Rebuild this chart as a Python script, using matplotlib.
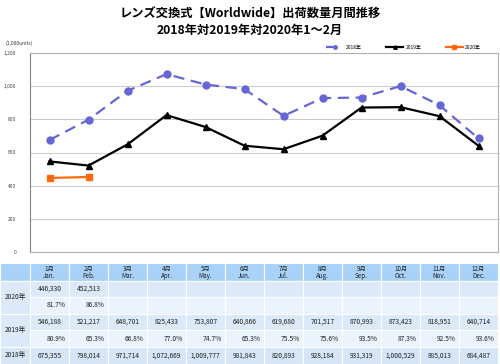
import numpy as np
import matplotlib
matplotlib.use("Agg")
import matplotlib.pyplot as plt
from matplotlib.patches import Rectangle

plt.rcParams['font.family'] = ['Noto Sans CJK JP', 'DejaVu Sans']

# data
months_jp = ["1月", "2月", "3月", "4月", "5月", "6月", "7月", "8月", "9月", "10月", "11月", "12月"]
months_en = ["Jan.", "Feb.", "Mar.", "Apr.", "May.", "Jun.", "Jul.", "Aug.", "Sep.", "Oct.", "Nov.", "Dec."]
y2018 = [675355, 798014, 971714, 1072669, 1009777, 981843, 820893, 928184, 931319, 1000529, 885013, 684487]
y2019 = [546188, 521217, 648701, 825433, 753807, 640866, 619680, 701517, 870993, 873423, 818951, 640714]
y2020 = [446330, 452513]
pct2019 = [80.9, 65.3, 66.8, 77.0, 74.7, 65.3, 75.5, 75.6, 93.5, 87.3, 92.5, 93.6]
pct2020 = [81.7, 86.8]

W, H = 500, 364
fig = plt.figure(figsize=(W / 100, H / 100), dpi=100)

fig.text(0.5, 1 - 13 / H, "レンズ交換式【Worldwide】出荷数量月間推移",
         ha="center", va="center", fontsize=8.8, fontweight="bold")
fig.text(0.5, 1 - 30 / H, "2018年対2019年対2020年1～2月",
         ha="center", va="center", fontsize=8.8, fontweight="bold")

# ---- chart ----
x0, x1 = 30, 498
ytop, ybot = 53, 252
ax = fig.add_axes([x0 / W, 1 - ybot / H, (x1 - x0) / W, (ybot - ytop) / H])
x = np.arange(12)
ax.plot(x, np.array(y2018) / 1000, color="#6666d6", lw=1.6, ls=(0, (5, 3)),
        marker="o", ms=5, label="2018年")
ax.plot(x, np.array(y2019) / 1000, color="black", lw=1.6,
        marker="^", ms=5, label="2019年")
ax.plot(x[:len(y2020)], np.array(y2020) / 1000, color="#ff6a10", lw=1.6,
        marker="s", ms=5, label="2020年")
ax.set_xlim(-0.5, 11.5)
ax.set_ylim(0, 1200)
ax.set_yticks(np.arange(0, 1201, 200))
ax.set_yticklabels(["0", "200", "400", "600", "800", "1,000", "1,200"])
ax.set_xticks([])
ax.tick_params(axis="y", labelsize=3.5, length=0, pad=10, colors="#444444")
ax.grid(axis="y", color="#cccccc", lw=0.8)
ax.set_axisbelow(True)
for s in ax.spines.values():
    s.set_color("#b0b0b0")
ax.spines["left"].set_color("#808080")
ax.legend(loc="lower right", bbox_to_anchor=(0.97, 1.0), ncol=3, frameon=False,
          fontsize=3.5, handlelength=3.5, columnspacing=5, markerscale=0.5,
          borderaxespad=0.2, handletextpad=0.5)
fig.text(5 / W, 1 - 43 / H, "(1,000units)", fontsize=3.5, va="center", color="#333333")

# ---- table ----
unit = (x1 - x0) / 12
tab_top = 263
tax = fig.add_axes([0, 0, 1, 1 - tab_top / H])
left = -0.5 - x0 / unit
tax.set_xlim(left, left + W / unit)
row_h = [18, 16, 16.5, 16.5, 16.5, 17]
edges = np.concatenate([[0], np.cumsum(row_h)])
tax.set_ylim(edges[-1], 0)
tax.axis("off")

hdr = "#a8d2f8"
c_val = "#dbe9f8"
c_pct = "#ebf3fc"
c_18 = "#d6e6f7"
row_cols = [c_val, c_pct, c_val, c_pct, c_18]


def cell(xa, xb, ya, yb, fc):
    tax.add_patch(Rectangle((xa, ya), xb - xa, yb - ya, fc=fc, ec="white", lw=0.8))


# header
cell(left, -0.5, edges[0], edges[1], hdr)
for i in range(12):
    cell(i - 0.5, i + 0.5, edges[0], edges[1], hdr)
    ym = (edges[0] + edges[1]) / 2
    tax.text(i, ym - 3.5, months_jp[i], ha="center", va="center", fontsize=4.5, color="#222222")
    tax.text(i, ym + 3.5, months_en[i], ha="center", va="center", fontsize=4.5, color="#222222")

# year labels
labels = [("2020年", 1, 3, c_val), ("2019年", 3, 5, c_val), ("2018年", 5, 6, c_18)]
for lab, ra, rb, fc in labels:
    cell(left, -0.5, edges[ra], edges[rb], fc)
    tax.text((left - 0.5) / 2, (edges[ra] + edges[rb]) / 2, lab, ha="center",
             va="center", fontsize=4.8, color="#222222")

for r in range(5):
    for i in range(12):
        cell(i - 0.5, i + 0.5, edges[r + 1], edges[r + 2], row_cols[r])

fmt = lambda v: f"{v:,}"
rows = [
    ([fmt(v) for v in y2020], "c"),
    ([f"{v:.1f}%" for v in pct2020], "r"),
    ([fmt(v) for v in y2019], "c"),
    ([f"{v:.1f}%" for v in pct2019], "r"),
    ([fmt(v) for v in y2018], "c"),
]
for r, (vals, al) in enumerate(rows):
    ym = (edges[r + 1] + edges[r + 2]) / 2
    for i, t in enumerate(vals):
        if al == "c":
            tax.text(i, ym, t, ha="center", va="center", fontsize=4.8, color="#222222")
        else:
            tax.text(i + 0.42, ym, t, ha="right", va="center", fontsize=4.8, color="#222222")

fig.savefig("out.png", dpi=100)
